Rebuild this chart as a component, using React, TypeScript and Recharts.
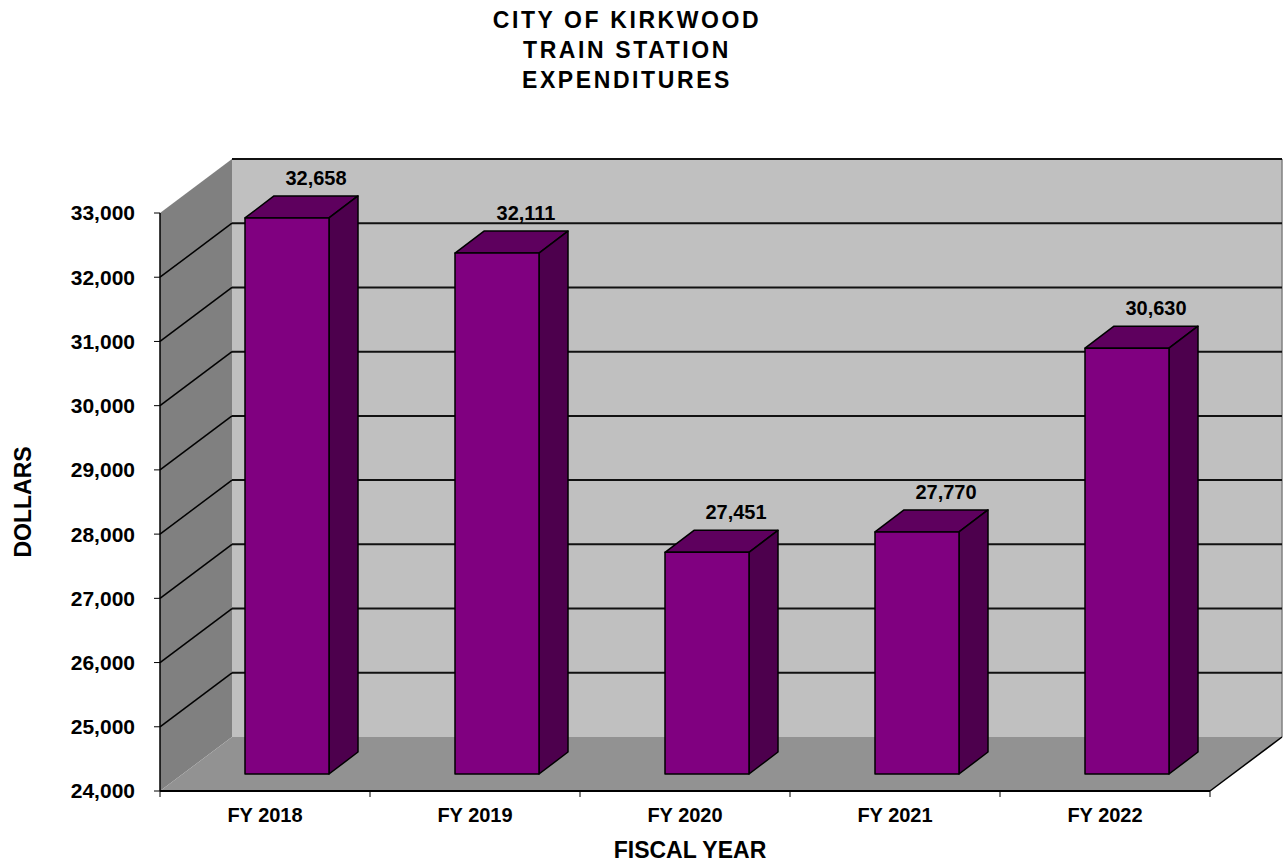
import { BarChart, Bar, XAxis, YAxis, CartesianGrid, LabelList } from "recharts";

const YEARS = ["FY 2018", "FY 2019", "FY 2020", "FY 2021", "FY 2022"];
const EXPENDITURES = [32658, 32111, 27451, 27770, 30630];
const Y_TICKS = [24000, 25000, 26000, 27000, 28000, 29000, 30000, 31000, 32000, 33000];
const TITLE_LINES = ["CITY OF KIRKWOOD", "TRAIN STATION", "EXPENDITURES"];
const X_TITLE = "FISCAL YEAR";
const Y_TITLE = "DOLLARS";

const WIDTH = 1283;
const HEIGHT = 863;
const FONT = "Arial, 'Liberation Sans', Helvetica, sans-serif";

// front plane of the fake 3D box
const PLOT_LEFT = 160;
const PLOT_TOP = 213;
const PLOT_RIGHT = 1210;
const PLOT_BOTTOM = 791;

// depth of the whole box, and where the bars sit inside it
const DEPTH_X = 72;
const DEPTH_Y = -54;
const BAR_SHIFT_X = 22;
const BAR_SHIFT_Y = -17;
const BAR_DEPTH_X = 29;
const BAR_DEPTH_Y = -22;

const data = YEARS.map((year, i) => ({ year, value: EXPENDITURES[i] }));

const fmt = (v: number) => Number(v).toLocaleString("en-US");

function GridLine(props: any) {
  const { x, y, width, height, y1, index } = props;
  const left = x;
  const right = x + width;
  const top = y;
  const bottom = y + height;
  const isTop = Math.abs(y1 - top) < 0.5;
  const isBottom = Math.abs(y1 - bottom) < 0.5;

  return (
    <g key={`grid-${index}`}>
      {index === 0 && (
        <g>
          <rect
            x={left + DEPTH_X}
            y={top + DEPTH_Y}
            width={width}
            height={height}
            fill="#c0c0c0"
          />
          <polygon
            points={`${left},${top} ${left + DEPTH_X},${top + DEPTH_Y} ${left + DEPTH_X},${bottom + DEPTH_Y} ${left},${bottom}`}
            fill="#808080"
          />
          <polygon
            points={`${left},${bottom} ${right},${bottom} ${right + DEPTH_X},${bottom + DEPTH_Y} ${left + DEPTH_X},${bottom + DEPTH_Y}`}
            fill="#929292"
          />
          <line
            x1={right + DEPTH_X}
            y1={top + DEPTH_Y}
            x2={right + DEPTH_X}
            y2={bottom + DEPTH_Y}
            stroke="#808080"
            strokeWidth={1.5}
          />
          <line
            x1={right}
            y1={bottom}
            x2={right + DEPTH_X}
            y2={bottom + DEPTH_Y}
            stroke="#000"
            strokeWidth={1.5}
          />
        </g>
      )}
      {!isBottom && (
        <line
          x1={left + DEPTH_X}
          y1={y1 + DEPTH_Y}
          x2={right + DEPTH_X}
          y2={y1 + DEPTH_Y}
          stroke="#111"
          strokeWidth={2}
        />
      )}
      {!isTop && !isBottom && (
        <line
          x1={left}
          y1={y1}
          x2={left + DEPTH_X}
          y2={y1 + DEPTH_Y}
          stroke="#000"
          strokeWidth={1.5}
        />
      )}
    </g>
  );
}

function Bar3D(props: any) {
  const { x, y, width, height } = props;
  const fx = x + BAR_SHIFT_X;
  const fy = y + BAR_SHIFT_Y;
  const bx = BAR_DEPTH_X;
  const by = BAR_DEPTH_Y;
  return (
    <g stroke="#000" strokeWidth={1.5} strokeLinejoin="round">
      <polygon
        points={`${fx},${fy} ${fx + bx},${fy + by} ${fx + width + bx},${fy + by} ${fx + width},${fy}`}
        fill="#5e005e"
      />
      <polygon
        points={`${fx + width},${fy} ${fx + width + bx},${fy + by} ${fx + width + bx},${fy + height + by} ${fx + width},${fy + height}`}
        fill="#4d004d"
      />
      <rect x={fx} y={fy} width={width} height={height} fill="#800080" />
    </g>
  );
}

function ValueLabel(props: any) {
  const { x, y, width, value } = props;
  return (
    <text
      x={Number(x) + Number(width) / 2 + BAR_SHIFT_X + 29}
      y={Number(y) + BAR_SHIFT_Y - 33}
      textAnchor="middle"
      fill="#000"
      fontSize={20}
      fontWeight={700}
      fontFamily={FONT}
    >
      {fmt(value)}
    </text>
  );
}

function XTick(props: any) {
  const { x, y, payload, index } = props;
  const half = (PLOT_RIGHT - PLOT_LEFT) / YEARS.length / 2;
  return (
    <g>
      <line x1={x - half} y1={y} x2={x - half} y2={y + 6} stroke="#000" />
      {index === YEARS.length - 1 && (
        <line x1={x + half} y1={y} x2={x + half} y2={y + 6} stroke="#000" />
      )}
      <text
        x={x}
        y={y + 31}
        textAnchor="middle"
        fill="#000"
        fontSize={20}
        fontWeight={700}
        fontFamily={FONT}
      >
        {payload.value}
      </text>
    </g>
  );
}

export default function App() {
  return (
    <div style={{ position: "absolute", left: 0, top: 0, width: WIDTH, height: HEIGHT, background: "#fff" }}>
      <BarChart
        width={WIDTH}
        height={HEIGHT}
        data={data}
        margin={{ top: PLOT_TOP, right: WIDTH - PLOT_RIGHT, bottom: 0, left: 0 }}
      >
        <CartesianGrid horizontal={GridLine} vertical={false} />
        <XAxis
          dataKey="year"
          height={HEIGHT - PLOT_BOTTOM}
          tickLine={false}
          tickSize={0}
          tickMargin={0}
          interval={0}
          axisLine={{ stroke: "#000", strokeWidth: 2 }}
          tick={XTick}
        />
        <YAxis
          width={PLOT_LEFT}
          domain={[24000, 33000]}
          ticks={Y_TICKS}
          interval={0}
          tickSize={6}
          tickMargin={19}
          tickLine={{ stroke: "#000" }}
          axisLine={{ stroke: "#000", strokeWidth: 1.5 }}
          tickFormatter={fmt}
          tick={{ fill: "#000", fontSize: 21, fontWeight: 700, fontFamily: FONT }}
        />
        <Bar dataKey="value" barSize={84} shape={Bar3D} isAnimationActive={false}>
          <LabelList dataKey="value" content={ValueLabel} />
        </Bar>
      </BarChart>

      <svg
        width={WIDTH}
        height={HEIGHT}
        style={{ position: "absolute", left: 0, top: 0, pointerEvents: "none" }}
      >
        <g fontFamily={FONT} fontWeight={700} fill="#000" textAnchor="middle">
          {TITLE_LINES.map((line, i) => (
            <text key={line} x={627} y={28 + i * 30} fontSize={23} letterSpacing={2.6}>
              {line}
            </text>
          ))}
          <text x={690} y={858} fontSize={23}>
            {X_TITLE}
          </text>
          <text x={31} y={502} fontSize={23} transform="rotate(-90, 31, 502)">
            {Y_TITLE}
          </text>
        </g>
      </svg>
    </div>
  );
}
